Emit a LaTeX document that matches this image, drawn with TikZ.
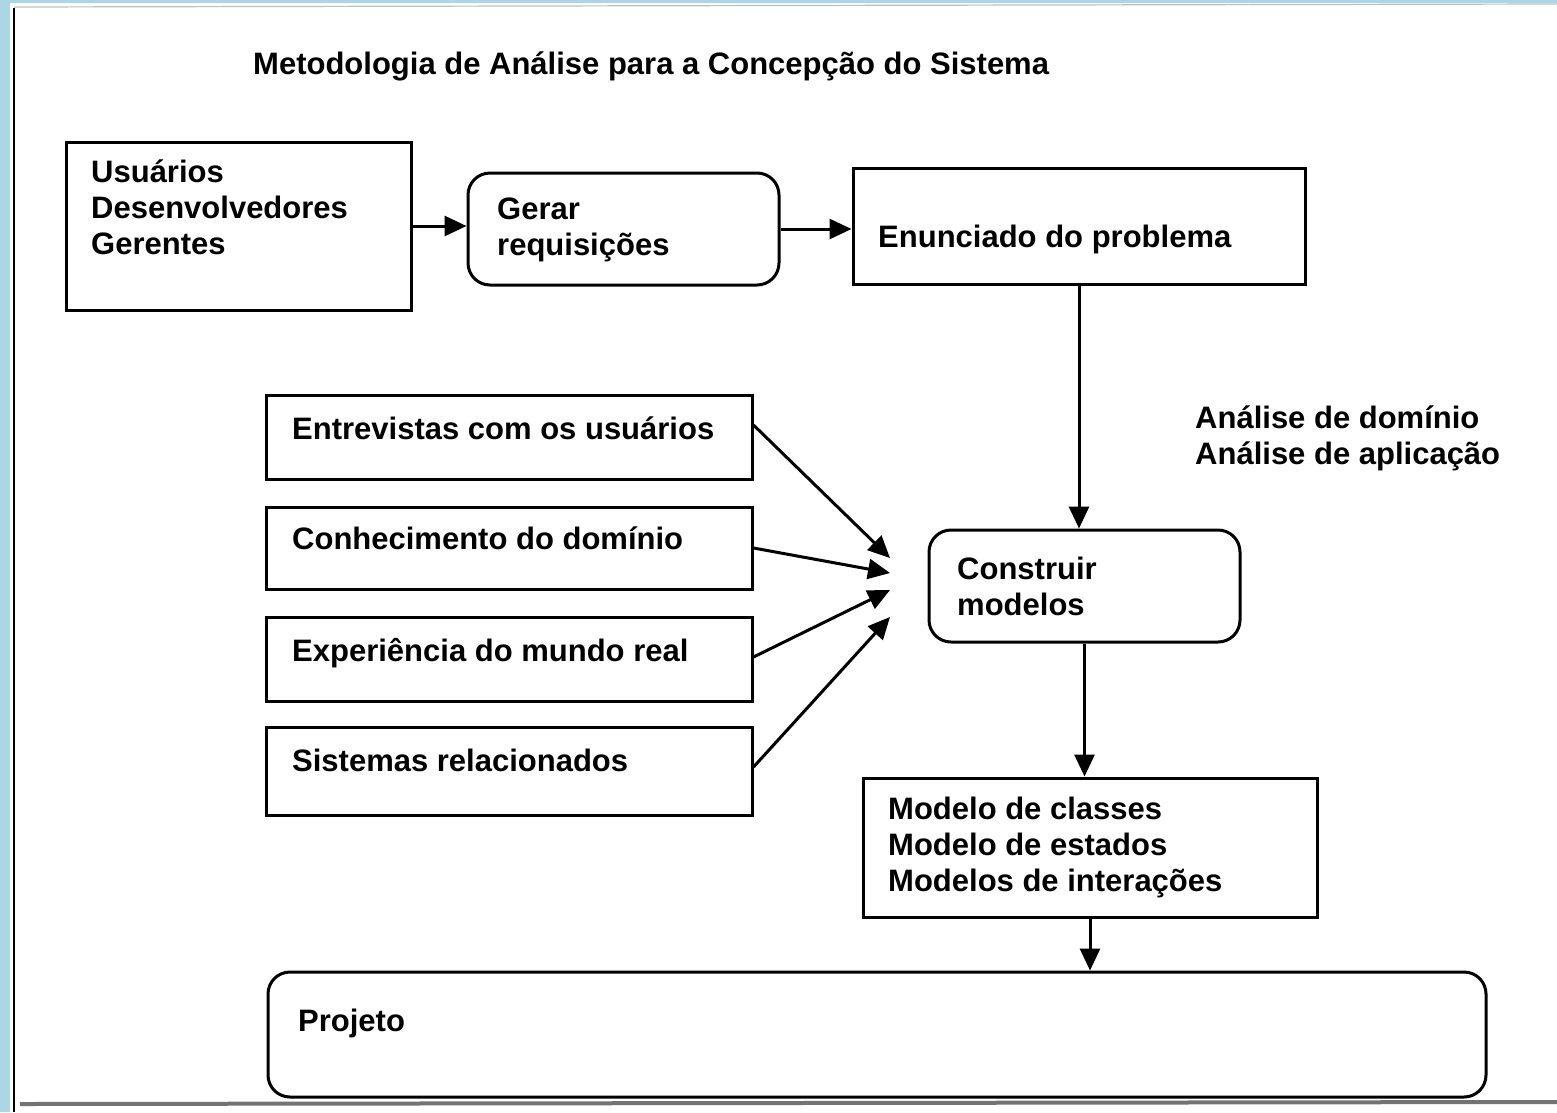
\documentclass[tikz,border=0pt]{standalone}
\usepackage{fontspec}
\setmainfont{Liberation Sans}
\usetikzlibrary{arrows.meta,calc}
\definecolor{scanblue}{RGB}{173,214,228}
\begin{document}
\begin{tikzpicture}[x=1pt,y=-1pt,
  lw/.style={line width=3pt},
  sqbox/.style={draw,lw,rectangle,inner sep=0pt},
  rbox/.style={draw,lw,rectangle,rounded corners=22pt,inner sep=0pt},
  txt/.style={anchor=base west,inner sep=0pt,font=\fontsize{31}{36}\selectfont\bfseries,align=left},
  arr/.style={lw,-{Triangle[length=22pt,width=20pt]}}]
\useasboundingbox (0,0) rectangle (1557,1112);
\fill[scanblue] (0,0) rectangle (1557,1112);
\fill[white] (10,3) rectangle (1557,1112);
% frame of the scanned page
\draw[line width=1.2pt,black!25] (14,7) -- (1557,4);
\draw[line width=2.5pt] (14,8) -- (14,1112);
\draw[line width=4pt,black!55] (20,1104) -- (1557,1102);
% title
\node[txt] (title) at (253,74) {Metodologia de Análise para a Concepção do Sistema};
% top row
\node[sqbox,minimum width=345pt,minimum height=168pt] (b1) at (238.5,226) {};
\node[txt] (b1t) at (91,254) {Usuários\\Desenvolvedores\\Gerentes};
\node[rbox,minimum width=311pt,minimum height=112pt] (b2) at (623.5,229) {};
\node[txt] (b2t) at (497,255) {Gerar\\requisições};
\node[sqbox,minimum width=452pt,minimum height=116pt] (b3) at (1079,226) {};
\node[txt] (b3t) at (878,247) {Enunciado do problema};
\draw[arr] (b1.east) -- (b1.east -| b2.west);
\draw[arr] (b2.east) -- (b2.east -| b3.west);
% analysis labels
\node[txt] (an) at (1195,464) {Análise de domínio\\Análise de aplicação};
% construir
\node[rbox,minimum width=311pt,minimum height=112pt] (cm) at (1084.5,586) {};
\node[txt] (cmt) at (957,615) {Construir\\modelos};
\draw[arr] (b3.south) -- (b3.south |- cm.north);
% left boxes
\node[sqbox,minimum width=486pt,minimum height=84pt] (e1) at (509,437) {};
\node[txt] (e1t) at (292,439) {Entrevistas com os usuários};
\node[sqbox,minimum width=486pt,minimum height=82pt] (e2) at (509,548) {};
\node[txt] (e2t) at (292,549) {Conhecimento do domínio};
\node[sqbox,minimum width=486pt,minimum height=84pt] (e3) at (509,659) {};
\node[txt] (e3t) at (292,661) {Experiência do mundo real};
\node[sqbox,minimum width=486pt,minimum height=88pt] (e4) at (509,771) {};
\node[txt] (e4t) at (292,771) {Sistemas relacionados};
\coordinate (t1) at (890,558);
\coordinate (t2) at (890,573);
\coordinate (t3) at (890,590);
\coordinate (t4) at (890,617);
\draw[arr] ([yshift=12pt]e1.east) -- (t1);
\draw[arr] (e2.east) -- (t2);
\draw[arr] ([yshift=2pt]e3.east) -- (t3);
\draw[arr] ([yshift=4pt]e4.east) -- (t4);
% models
\node[sqbox,minimum width=454pt,minimum height=139pt] (mod) at (1090,847.5) {};
\node[txt] (modt) at (888,891) {Modelo de classes\\Modelo de estados\\Modelos de interações};
\draw[arr] (cm.south) -- (cm.south |- mod.north);
% projeto
\node[rbox,minimum width=1218pt,minimum height=125pt] (proj) at (877,1034.5) {};
\node[txt] (projt) at (298,1031) {Projeto};
\draw[arr] (mod.south) -- (mod.south |- proj.north);
\end{tikzpicture}
\end{document}
